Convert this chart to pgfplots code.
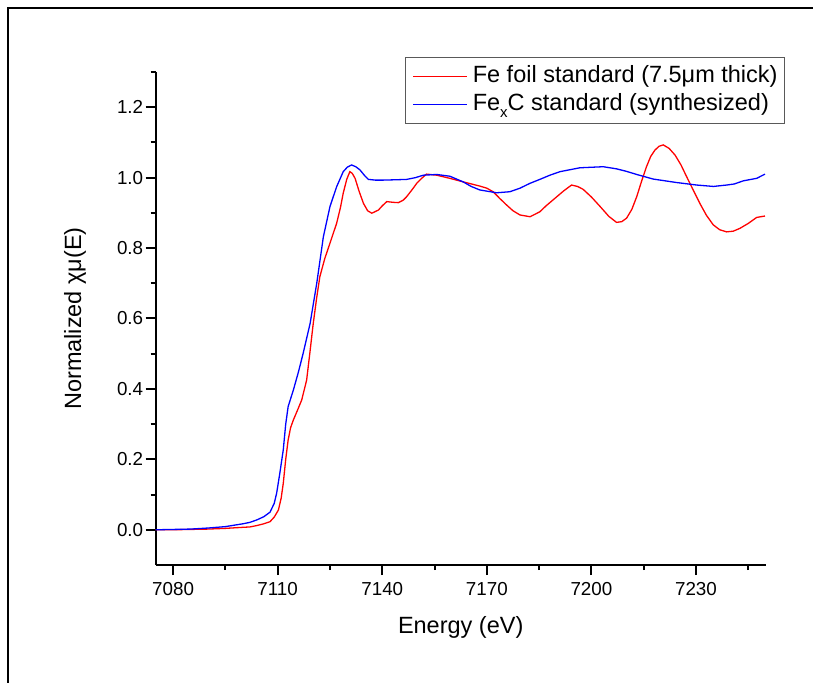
\documentclass[border=0pt]{standalone}
\usepackage{fontspec}
\setmainfont{Liberation Sans}
\usepackage{pgfplots}
\pgfplotsset{compat=1.18}
\usepackage{pgfplotstable}

\pgfplotstableread{
E v
7075 0.000
7080 0.001
7085 0.002
7090 0.005
7095 0.009
7100 0.017
7102.0 0.021
7104 0.028
7106 0.037
7107.8 0.050
7109.0 0.075
7109.7 0.104
7110.6 0.160
7111.6 0.227
7112.3 0.300
7113.0 0.350
7114.5 0.397
7116.0 0.450
7117.3 0.501
7119.3 0.586
7121.2 0.700
7123.1 0.832
7125.0 0.918
7126.9 0.974
7128.8 1.017
7130.0 1.030
7131.2 1.036
7132.4 1.031
7133.6 1.022
7135.0 1.005
7136.0 0.995
7138.0 0.993
7140.3 0.993
7144.0 0.994
7147.0 0.995
7149.5 1.000
7151.8 1.007
7155.6 1.009
7159.4 1.004
7163.2 0.988
7165.5 0.975
7168.0 0.965
7172.8 0.957
7176.6 0.960
7179.5 0.970
7182.4 0.984
7185.2 0.995
7188.1 1.007
7191.0 1.017
7196.7 1.028
7203.4 1.031
7207.2 1.025
7210.0 1.018
7213.0 1.009
7217.7 0.996
7224.5 0.986
7230.2 0.979
7235.0 0.975
7238.8 0.979
7241.0 0.982
7243.6 0.991
7247.4 0.998
7249.8 1.010
}\blue

\pgfplotstableread{
E v
7075 0.000
7080 0.000
7085 0.001
7090 0.002
7095 0.004
7100 0.007
7102.0 0.008
7104 0.012
7106 0.017
7107.8 0.023
7109.0 0.036
7110.2 0.056
7111.0 0.090
7111.6 0.132
7112.3 0.200
7113.0 0.255
7113.7 0.290
7114.5 0.312
7115.7 0.340
7116.9 0.369
7118.3 0.425
7119.2 0.500
7120.2 0.586
7121.2 0.660
7122.1 0.719
7123.5 0.770
7125.0 0.814
7126.9 0.870
7128.0 0.915
7128.8 0.956
7129.8 0.995
7130.7 1.017
7131.4 1.012
7132.2 0.998
7133.4 0.960
7134.6 0.927
7135.8 0.906
7137.0 0.899
7138.9 0.908
7140.0 0.920
7141.3 0.932
7143.0 0.930
7144.6 0.929
7146.0 0.936
7147.0 0.946
7148.5 0.965
7149.9 0.984
7151.3 0.998
7152.7 1.010
7155.6 1.007
7159.4 0.998
7163.2 0.988
7168.0 0.976
7170.0 0.970
7171.8 0.960
7173.8 0.940
7175.7 0.922
7177.5 0.906
7179.5 0.894
7182.4 0.889
7185.2 0.903
7187.0 0.920
7189.5 0.941
7192.0 0.962
7194.3 0.979
7196.0 0.975
7197.6 0.967
7200.0 0.945
7202.5 0.918
7205.0 0.890
7207.2 0.873
7208.7 0.875
7210.1 0.885
7211.6 0.910
7213.0 0.946
7214.4 0.990
7215.8 1.031
7217.0 1.060
7218.2 1.078
7219.4 1.089
7220.6 1.093
7222.3 1.083
7224.0 1.064
7225.7 1.036
7227.3 1.003
7229.2 0.965
7231.1 0.927
7233.0 0.893
7234.95 0.866
7236.8 0.852
7238.8 0.846
7240.7 0.848
7242.6 0.856
7245.0 0.870
7247.4 0.887
7249.8 0.891
}\red

\begin{document}
\begin{tikzpicture}[x=1pt,y=1pt]
\begin{axis}[
  at={(0pt,0pt)}, anchor=south west,
  scale only axis,
  width=610pt, height=493pt,
  xmin=7075, xmax=7250,
  ymin=-0.1, ymax=1.3,
  axis x line*=bottom, axis y line*=left,
  axis line style={line width=2pt},
  tick align=outside,
  major tick length=10pt, minor tick length=5pt,
  every tick/.style={black, line width=2pt},
  xtick={7080,7110,7140,7170,7200,7230},
  minor xtick={7095,7125,7155,7185,7215,7245},
  ytick={0,0.2,0.4,0.6,0.8,1.0,1.2},
  minor ytick={0.1,0.3,0.5,0.7,0.9,1.1,1.3},
  x tick label style={/pgf/number format/1000 sep={}},
  y tick label style={/pgf/number format/fixed,/pgf/number format/fixed zerofill,/pgf/number format/precision=1},
  /pgf/number format/assume math mode=true,
  tick label style={font=\fontsize{18.8}{22}\selectfont},
  xticklabel style={yshift=-4pt},
  yticklabel style={xshift=1pt},
  xlabel={Energy (eV)},
  ylabel={Normalized χμ(E)},
  label style={font=\fontsize{23.5}{27}\selectfont},
  xlabel style={at={(axis description cs:0.5,-0.1275)}, anchor=center},
  ylabel style={at={(axis description cs:-0.1323,0.5)}, anchor=center},
  legend style={at={(axis description cs:1.0316,1.0304)}, anchor=north east,
    draw=black!65, line width=0.8pt, fill=white,
    font=\fontsize{23.5}{28}\selectfont,
    nodes={text height=17pt, text depth=5pt, inner ysep=3pt},
    inner xsep=5pt, inner ysep=5pt, row sep=0pt},
  legend cell align=left,
  legend image code/.code={\path (-2pt,0pt) (57pt,0pt); \draw[#1, line width=1.2pt] (0pt,0pt) -- (54pt,0pt);},
  clip=false,
]
\addplot[red, line width=1.3pt] table[x=E,y=v] {\red};
\addlegendentry{Fe foil standard (7.5μm thick)}
\addplot[blue, line width=1.3pt] table[x=E,y=v] {\blue};
\addlegendentry{Fe\raisebox{-7pt}{\fontsize{15}{15}\selectfont x}C standard (synthesized)}
\end{axis}
\draw[black, line width=2pt] (-147.7,-130) -- (-147.7,557) -- (657.3,557);
\pgfresetboundingbox
\path[use as bounding box] (-155.7,-118) rectangle (664.3,565);
\end{tikzpicture}
\end{document}
